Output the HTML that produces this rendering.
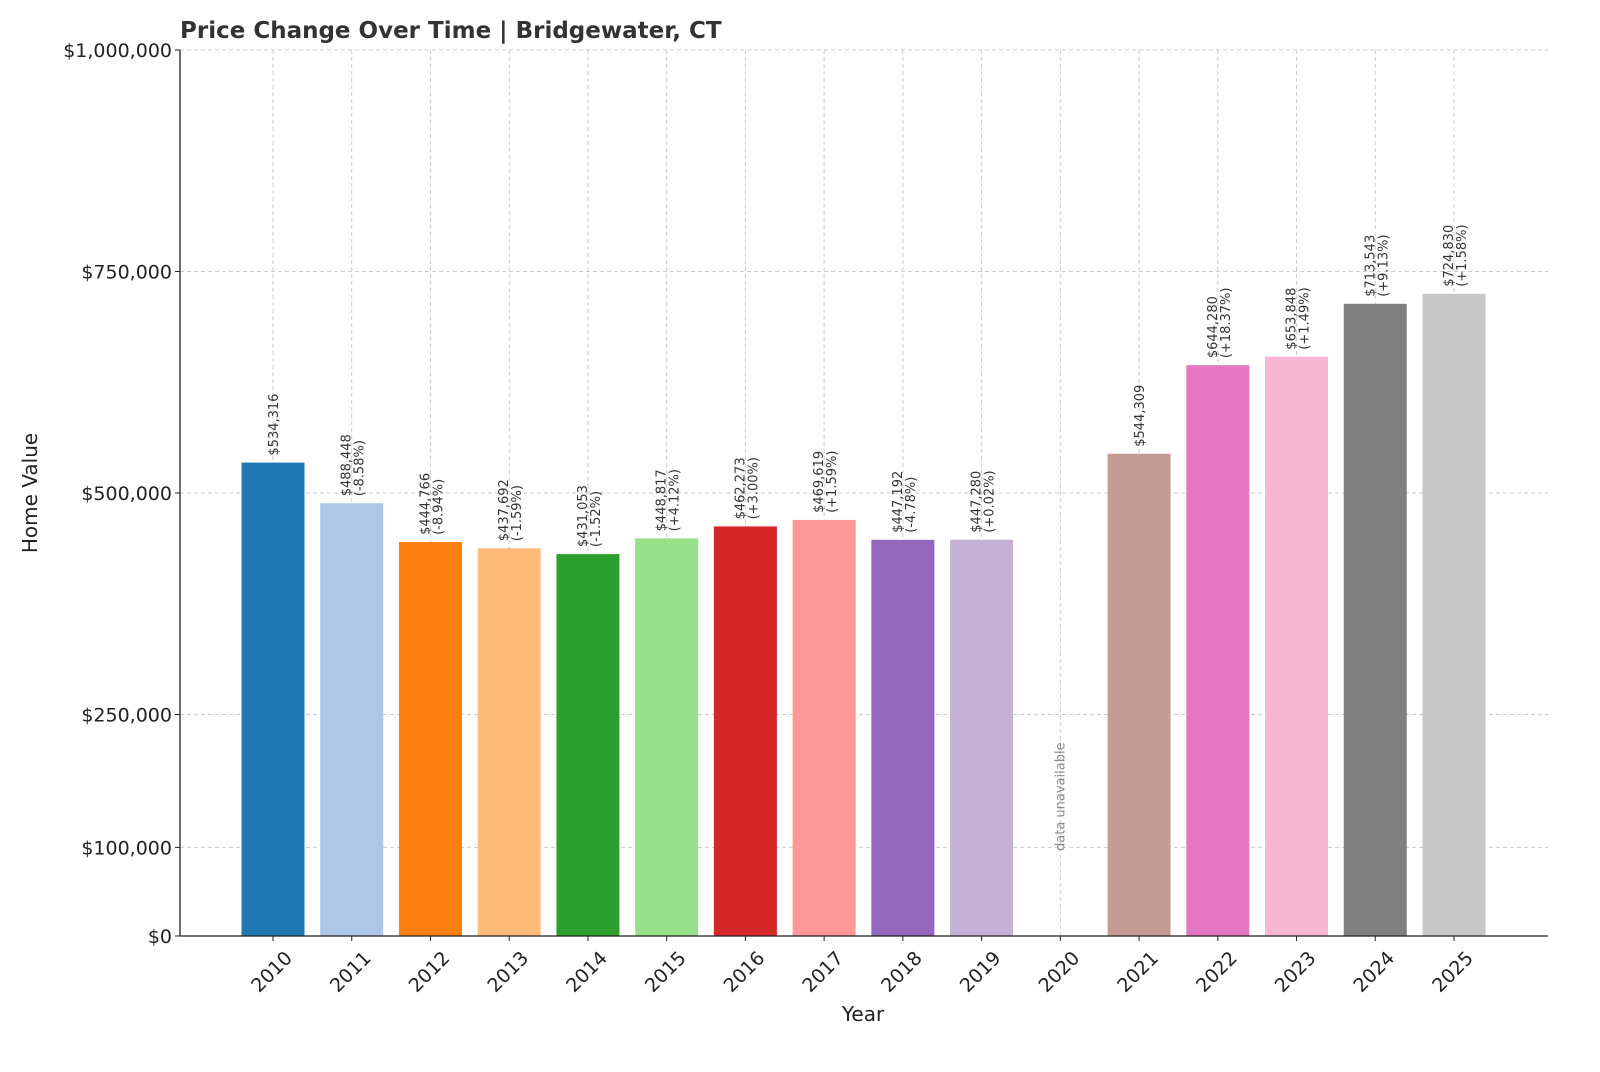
<!DOCTYPE html>
<html><head><meta charset="utf-8"><style>
body{margin:0;background:#fff;font-family:"Liberation Sans","DejaVu Sans",sans-serif;}
svg text{font-family:"DejaVu Sans","Liberation Sans",sans-serif;}
</style></head><body>
<svg id="chart" width="1600" height="1067" viewBox="0 0 1600 1067" xmlns="http://www.w3.org/2000/svg">
<rect width="1600" height="1067" fill="#fff"/>
<text x="180" y="38" font-size="23" font-weight="bold" fill="#333">Price Change Over Time | Bridgewater, CT</text>
<text transform="translate(37,493) rotate(-90)" text-anchor="middle" font-size="20" fill="#222">Home Value</text>
<text x="863" y="1021" text-anchor="middle" font-size="20" fill="#222">Year</text>
<g id="grid"></g><g id="bars"></g><g id="labels"></g><g id="axes"></g>
</svg>
<script>
const years=["2010","2011","2012","2013","2014","2015","2016","2017","2018","2019","2020","2021","2022","2023","2024","2025"];
const values=[534316,488448,444766,437692,431053,448817,462273,469619,447192,447280,null,544309,644280,653848,713543,724830];
const valueLabels=["$534,316","$488,448","$444,766","$437,692","$431,053","$448,817","$462,273","$469,619","$447,192","$447,280","","$544,309","$644,280","$653,848","$713,543","$724,830"];
const pctLabels=["","(-8.58%)","(-8.94%)","(-1.59%)","(-1.52%)","(+4.12%)","(+3.00%)","(+1.59%)","(-4.78%)","(+0.02%)","","","(+18.37%)","(+1.49%)","(+9.13%)","(+1.58%)"];
const yTicks=[0,100000,250000,500000,750000,1000000];
const yTickLabels=["$0","$100,000","$250,000","$500,000","$750,000","$1,000,000"];
const colors=["#1f77b4","#aec7e8","#ff7f0e","#ffbb78","#2ca02c","#98df8a","#d62728","#ff9896","#9467bd","#c5b0d5","#8c564b","#c49c94","#e377c2","#f7b6d2","#7f7f7f","#c7c7c7"];
const NS="http://www.w3.org/2000/svg";
const L=180,R=1548,T=50,B=936;
const y=v=>B-(v/1000000)*(B-T);
const x=i=>273+i*(1454-273)/15;
const bw=63;
function mk(tag,attrs,parent){const e=document.createElementNS(NS,tag);for(const k in attrs)e.setAttribute(k,attrs[k]);parent.appendChild(e);return e;}
const grid=document.getElementById('grid'),bars=document.getElementById('bars'),labels=document.getElementById('labels'),axes=document.getElementById('axes');
yTicks.forEach((t,i)=>{
  const gl=mk('line',{x1:L,x2:R,y1:y(t),y2:y(t),stroke:'#ccc','stroke-dasharray':'4,3','stroke-width':1},grid);
  
  
  const tk=mk('line',{x1:L-5,x2:L,y1:y(t),y2:y(t),stroke:'#222'},axes);
  
  
  const tl=mk('text',{x:L-8,y:y(t)+7,'text-anchor':'end','font-size':19,fill:'#222'},axes);
  tl.textContent=yTickLabels[i];
  
  
});
years.forEach((yr,i)=>{
  const cx=x(i);
  const gl=mk('line',{x1:cx,x2:cx,y1:T,y2:B,stroke:'#ccc','stroke-dasharray':'4,3','stroke-width':1},grid);
  
  
  const tk=mk('line',{x1:cx,x2:cx,y1:B,y2:B+5,stroke:'#222'},axes);
  
  
  const tl=mk('text',{transform:`translate(${cx-1},${972}) rotate(-45)`,'text-anchor':'middle','dominant-baseline':'central','font-size':19,fill:'#222'},axes);
  tl.textContent=yr;
  
  
  const v=values[i];
  if(v===null){
    const na=mk('text',{transform:`translate(${cx+4},${851}) rotate(-90)`,'font-size':13,fill:'#888'},labels);
    na.textContent='data unavailable';
    
    
    return;
  }
  const b=mk('rect',{x:cx-bw/2,y:y(v),width:bw,height:B-y(v),fill:colors[i]},bars);
  
  
  const top=y(v)-7;
  if(pctLabels[i]){
    const t1=mk('text',{transform:`translate(${cx-1},${top}) rotate(-90)`,'font-size':13,fill:'#333'},labels);
    t1.textContent=valueLabels[i];
    
    
    const t2=mk('text',{transform:`translate(${cx+12},${top}) rotate(-90)`,'font-size':13,fill:'#333'},labels);
    t2.textContent=pctLabels[i];
    
    
  } else {
    const t1=mk('text',{transform:`translate(${cx+5},${top}) rotate(-90)`,'font-size':13,fill:'#333'},labels);
    t1.textContent=valueLabels[i];
    
    
  }
});
const ax1=mk('line',{x1:L,x2:L,y1:T,y2:B,stroke:'#222','stroke-width':1.3},axes);


const ax2=mk('line',{x1:L,x2:R,y1:B,y2:B,stroke:'#222','stroke-width':1.3},axes);


</script>
</body></html>
